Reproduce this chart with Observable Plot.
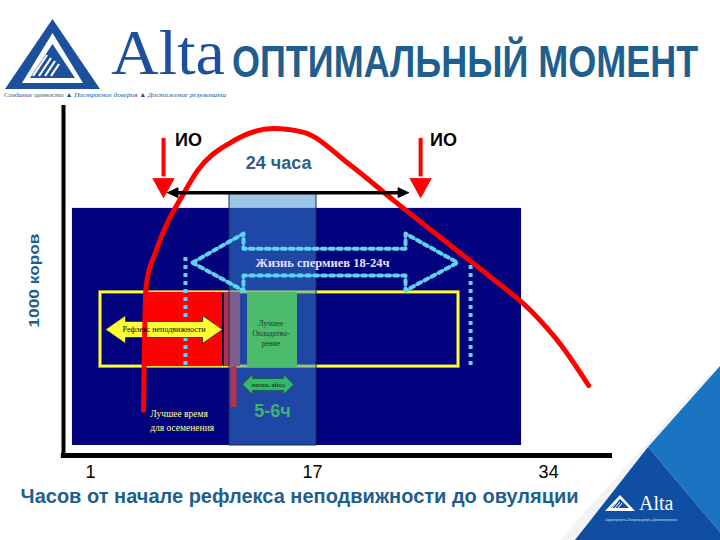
<!DOCTYPE html>
<html><head><meta charset="utf-8">
<script src="https://cdn.jsdelivr.net/npm/d3@7"></script>
<script src="https://cdn.jsdelivr.net/npm/@observablehq/plot@0.6"></script>
<style>
body{margin:0;background:#fff;}
#wrap{position:relative;width:720px;height:540px;overflow:hidden;font-family:"Liberation Sans",Arial,sans-serif;}
#chart{position:absolute;left:0;top:0;}
#deco{position:absolute;left:0;top:0;pointer-events:none;}
</style></head>
<body><div id="wrap">
<div id="chart"></div>
<svg id="deco" width="720" height="540">
  <polygon points="5,89 100,89 52.5,19" fill="#1c4f9c"/>
  <polygon points="22,83 83,83 52.5,33" fill="#ffffff"/>
  <polygon points="30,78 75,78 52.5,44" fill="#1c4f9c"/>
  <g stroke="#ffffff" stroke-width="2.2">
    <line x1="33" y1="76" x2="47" y2="55"/><line x1="39" y1="76" x2="51" y2="58"/>
    <line x1="45" y1="76" x2="55" y2="61"/><line x1="51" y1="76" x2="59" y2="64"/>
  </g>
  <text x="111" y="74" font-family="Liberation Serif, serif" font-size="64" fill="#1c4f9c" textLength="114" lengthAdjust="spacingAndGlyphs">Alta</text>
  <text x="4" y="97" font-family="Liberation Serif, serif" font-style="italic" font-size="7" fill="#1c4f9c" textLength="222" lengthAdjust="spacingAndGlyphs">Создание ценности ▲ Построение доверия ▲ Достижение результата</text>
  <text transform="translate(232,77) scale(1,1.22)" x="0" y="0" font-family="Liberation Sans, Arial, sans-serif" font-weight="bold" font-size="36" fill="#1f5f8f">ОПТИМАЛЬНЫЙ МОМЕНТ</text>
  <polygon points="560,540 708,375 720,375 720,380 600,540" fill="#f1f3f5"/>
  <polygon points="648,447 720,366 720,532" fill="#1a74c2"/>
  <polygon points="575,540 648,447 720,532 720,540" fill="#0f4ea2"/>
  <polygon points="605,511 635,511 620,495" fill="#ffffff"/>
  <polygon points="611,508 629,508 620,499" fill="#0f4ea2"/>
  <g stroke="#ffffff" stroke-width="1"><line x1="612" y1="508" x2="618" y2="501"/><line x1="615" y1="508" x2="620" y2="502"/><line x1="618" y1="508" x2="622" y2="503"/></g>
  <text x="639" y="510" font-family="Liberation Serif, serif" font-size="20" fill="#ffffff">Alta</text>
  <text x="605" y="521" font-family="Liberation Sans, sans-serif" font-size="3" fill="#dfe8f5" textLength="72" lengthAdjust="spacingAndGlyphs">Создание ценности ▲ Построение доверия ▲ Достижение результата</text>
</svg>
</div>
<script>
// ---- data (x: hours from start of standing heat, y: relative units of "1000 коров") ----
const xTicks = [1, 17, 34];
const curveHours = [4.82, 4.89, 5.03, 5.68, 6.62, 7.63, 8.71, 11.09, 14.18, 16.35, 19.73, 22.83, 26.94, 29.85, 32.70, 34.86, 36.88];
const curveCows  = [12.9, 32.9, 49.1, 58.0, 67.1, 74.3, 81.4, 89.4, 93.4, 92.3, 82.9, 72.9, 60.0, 50.9, 41.4, 31.7, 20.0];

const panelX = [-0.30, 32.05], panelY = [2.86, 70.6];
const windowX = [11.01, 17.28], windowY = [2.86, 74.9];
const boxX = [1.72, 27.51], boxY = [25.4, 46.6];
const reflexX = [4.82, 10.51];
const lateX = [10.58, 11.81];
const lateLineX = 11.30, lateLineY = [25.4, 13.7];
const fertX = [12.31, 15.91], fertY = [25.1, 46.6];
const reflexEndX = 10.55;

const spermX = [8.35, 12.02, 12.02, 23.69, 23.69, 27.44, 23.69, 23.69, 12.02, 12.02, 8.35];
const spermY = [55.1, 63.4, 59.1, 59.1, 63.4, 55.1, 47.1, 51.4, 51.4, 47.1, 55.1];
const bracketX = [7.84, 28.38], bracketTop = [56.6, 54.3], bracketBottom = 25.7;

const reflexArrowX = [2.08, 10.51], reflexArrowY = 36.0;
const eggArrowX = [11.95, 15.63], eggArrowY = 20.3;

const ioX = [6.26, 24.78], ioTop = 90.6, ioHeadBase = 79.1, ioTip = 73.7;
const dayArrowX = [6.55, 23.91], dayArrowY = 75.1;

const ioLabels = ["ИО", "ИО"], ioLabelX = [8.06, 26.43], ioLabelY = 90.0;
const fertLines = ["Лучшее", "Оплодотво-", "рение"], fertLineY = [37.7, 34.9, 32.0];
const bestLines = ["Лучшее время", "для осеменения"], bestLineY = [12.0, 8.0];

// ---- helpers (geometry built from the values above) ----
const pts = (xs, ys) => xs.map((x, i) => ({x, y: ys[i]}));
function dblArrow([x1, x2], yc, hl, hh, sh) {
  return pts(
    [x1, x1 + hl, x1 + hl, x2 - hl, x2 - hl, x2, x2 - hl, x2 - hl, x1 + hl, x1 + hl, x1],
    [yc, yc + hh, yc + sh, yc + sh, yc + hh, yc, yc - hh, yc - sh, yc - sh, yc - hh, yc]);
}
const curve = pts(curveHours, curveCows);
const rect = (xs, ys) => [{x1: xs[0], x2: xs[1], y1: ys[0], y2: ys[1]}];
const ioHeads = ioX.map(x => pts([x - 0.75, x + 0.75, x, x - 0.75], [ioHeadBase, ioHeadBase, ioTip, ioHeadBase]));
const dayHeads = [
  pts([dayArrowX[0], dayArrowX[0] + 0.75, dayArrowX[0] + 0.75, dayArrowX[0]], [dayArrowY, dayArrowY + 1.4, dayArrowY - 1.4, dayArrowY]),
  pts([dayArrowX[1], dayArrowX[1] - 0.75, dayArrowX[1] - 0.75, dayArrowX[1]], [dayArrowY, dayArrowY + 1.4, dayArrowY - 1.4, dayArrowY])
];
const serif = "Liberation Serif, Times New Roman, serif";

const marks = [
  Plot.rect(rect(panelX, panelY), {x1: "x1", x2: "x2", y1: "y1", y2: "y2", fill: "#02027e"}),
  Plot.rect(rect(boxX, boxY), {x1: "x1", x2: "x2", y1: "y1", y2: "y2", fill: "none", stroke: "#ffff30", strokeWidth: 3}),
  Plot.rect(rect(reflexX, boxY), {x1: "x1", x2: "x2", y1: "y1", y2: "y2", fill: "#ff0000"}),
  Plot.rect(rect(lateX, boxY), {x1: "x1", x2: "x2", y1: "y1", y2: "y2", fill: "#b8304f"}),
  Plot.ruleX([reflexEndX], {y1: boxY[0], y2: boxY[1], stroke: "#000000", strokeWidth: 1.2}),
  Plot.rect(rect(windowX, windowY), {x1: "x1", x2: "x2", y1: "y1", y2: "y2", fill: "#3c8bcd", fillOpacity: 0.5, stroke: "#1b2a55", strokeWidth: 1}),
  Plot.ruleX([lateLineX], {y1: lateLineY[0], y2: lateLineY[1], stroke: "#b8304f", strokeWidth: 6}),
  Plot.rect(rect(fertX, fertY), {x1: "x1", x2: "x2", y1: "y1", y2: "y2", fill: "#4cbb6c"}),
  Plot.line(pts(spermX, spermY), {x: "x", y: "y", stroke: "#5fd3f3", strokeWidth: 4, strokeDasharray: "4,4"}),
  ...bracketX.map((x, i) => Plot.ruleX([x], {y1: bracketTop[i], y2: bracketBottom, stroke: "#5fd3f3", strokeWidth: 4, strokeDasharray: "4,4"})),
  Plot.line(dblArrow(reflexArrowX, reflexArrowY, 1.44, 4.0, 2.3), {x: "x", y: "y", fill: "#ffff33", stroke: "#222", strokeWidth: 0.8}),
  Plot.line(dblArrow(eggArrowX, eggArrowY, 0.72, 2.9, 1.7), {x: "x", y: "y", fill: "#35b86c", stroke: "#1b4a2a", strokeWidth: 0.6}),
  Plot.line(curve, {x: "x", y: "y", stroke: "#ff0000", strokeWidth: 5, curve: "monotone-x"}),
  Plot.ruleX(ioX, {y1: ioTop, y2: ioHeadBase + 0.5, stroke: "#ff0000", strokeWidth: 4}),
  ...ioHeads.map(h => Plot.line(h, {x: "x", y: "y", fill: "#ff0000", stroke: "#ff0000", strokeWidth: 1})),
  Plot.ruleY([dayArrowY], {x1: dayArrowX[0] + 0.5, x2: dayArrowX[1] - 0.5, stroke: "#000000", strokeWidth: 3.5}),
  ...dayHeads.map(h => Plot.line(h, {x: "x", y: "y", fill: "#000000", stroke: "#000000", strokeWidth: 1})),
  // texts
  Plot.text(ioLabels, {x: (d, i) => ioLabelX[i], y: ioLabelY, text: d => d, fontSize: 18, fontWeight: "bold", fill: "#000000"}),
  Plot.text(["24 часа"], {x: 14.55, y: 83.4, text: d => d, fontSize: 18, fontWeight: "bold", fill: "#2b5e88"}),
  Plot.text(["Жизнь спермиев 18-24ч"], {x: 17.71, y: 54.9, text: d => d, fontSize: 12.5, fontWeight: "bold", fontFamily: serif, fill: "#e2e2ff"}),
  Plot.text(["Рефлекс неподвижности"], {x: 6.3, y: reflexArrowY, text: d => d, fontSize: 8, fontFamily: serif, fill: "#000000"}),
  Plot.text(fertLines, {x: 14.0, y: (d, i) => fertLineY[i], text: d => d, fontSize: 7.5, fontFamily: serif, fill: "#173a22"}),
  Plot.text(["жизнь яйца"], {x: 13.79, y: eggArrowY, text: d => d, fontSize: 7, fontFamily: serif, fill: "#0f2a18"}),
  Plot.text(["5-6ч"], {x: 14.11, y: 12.6, text: d => d, fontSize: 18, fontWeight: "bold", fill: "#3cb371"}),
  Plot.text(bestLines, {x: 5.3, y: (d, i) => bestLineY[i], text: d => d, textAnchor: "start", fontSize: 9.5, fontFamily: serif, fill: "#ffff99"}),
  Plot.text(["1000 коров"], {x: -3.03, y: 50, text: d => d, rotate: -90, fontSize: 14, fontWeight: "bold", fill: "#1f5f8f"}),
  Plot.text(["Часов от начале рефлекса неподвижности до овуляции"], {x: 16.06, y: -11.7, text: d => d, fontSize: 20, fontWeight: "bold", fill: "#1f5f8f"}),
  // axes
  Plot.ruleX([-0.945], {y1: 0, y2: 100, stroke: "#000000", strokeWidth: 4}),
  Plot.ruleY([0], {x1: -1.1, x2: 38.6, stroke: "#000000", strokeWidth: 5}),
  Plot.axisX(xTicks, {tickSize: 0, tickPadding: 10, fontSize: 18, label: null, fill: "#000000"})
];

const chart = Plot.plot({
  width: 720, height: 540,
  marginLeft: 63, marginRight: 108, marginTop: 105, marginBottom: 85,
  x: {domain: [-0.945, 38.6], axis: null},
  y: {domain: [0, 100], axis: null},
  style: {background: "transparent", fontFamily: "Liberation Sans, Arial, sans-serif", overflow: "visible"},
  marks
});
document.getElementById("chart").appendChild(chart);

// stretch long labels to the widths seen in the reference
d3.select(chart).selectAll("text").each(function() {
  const t = this.textContent;
  if (t === "Часов от начале рефлекса неподвижности до овуляции") { this.setAttribute("textLength", 558); this.setAttribute("lengthAdjust", "spacingAndGlyphs"); }
  if (t === "1000 коров") { this.setAttribute("textLength", 94); this.setAttribute("lengthAdjust", "spacingAndGlyphs"); }
});
</script>
</body></html>
